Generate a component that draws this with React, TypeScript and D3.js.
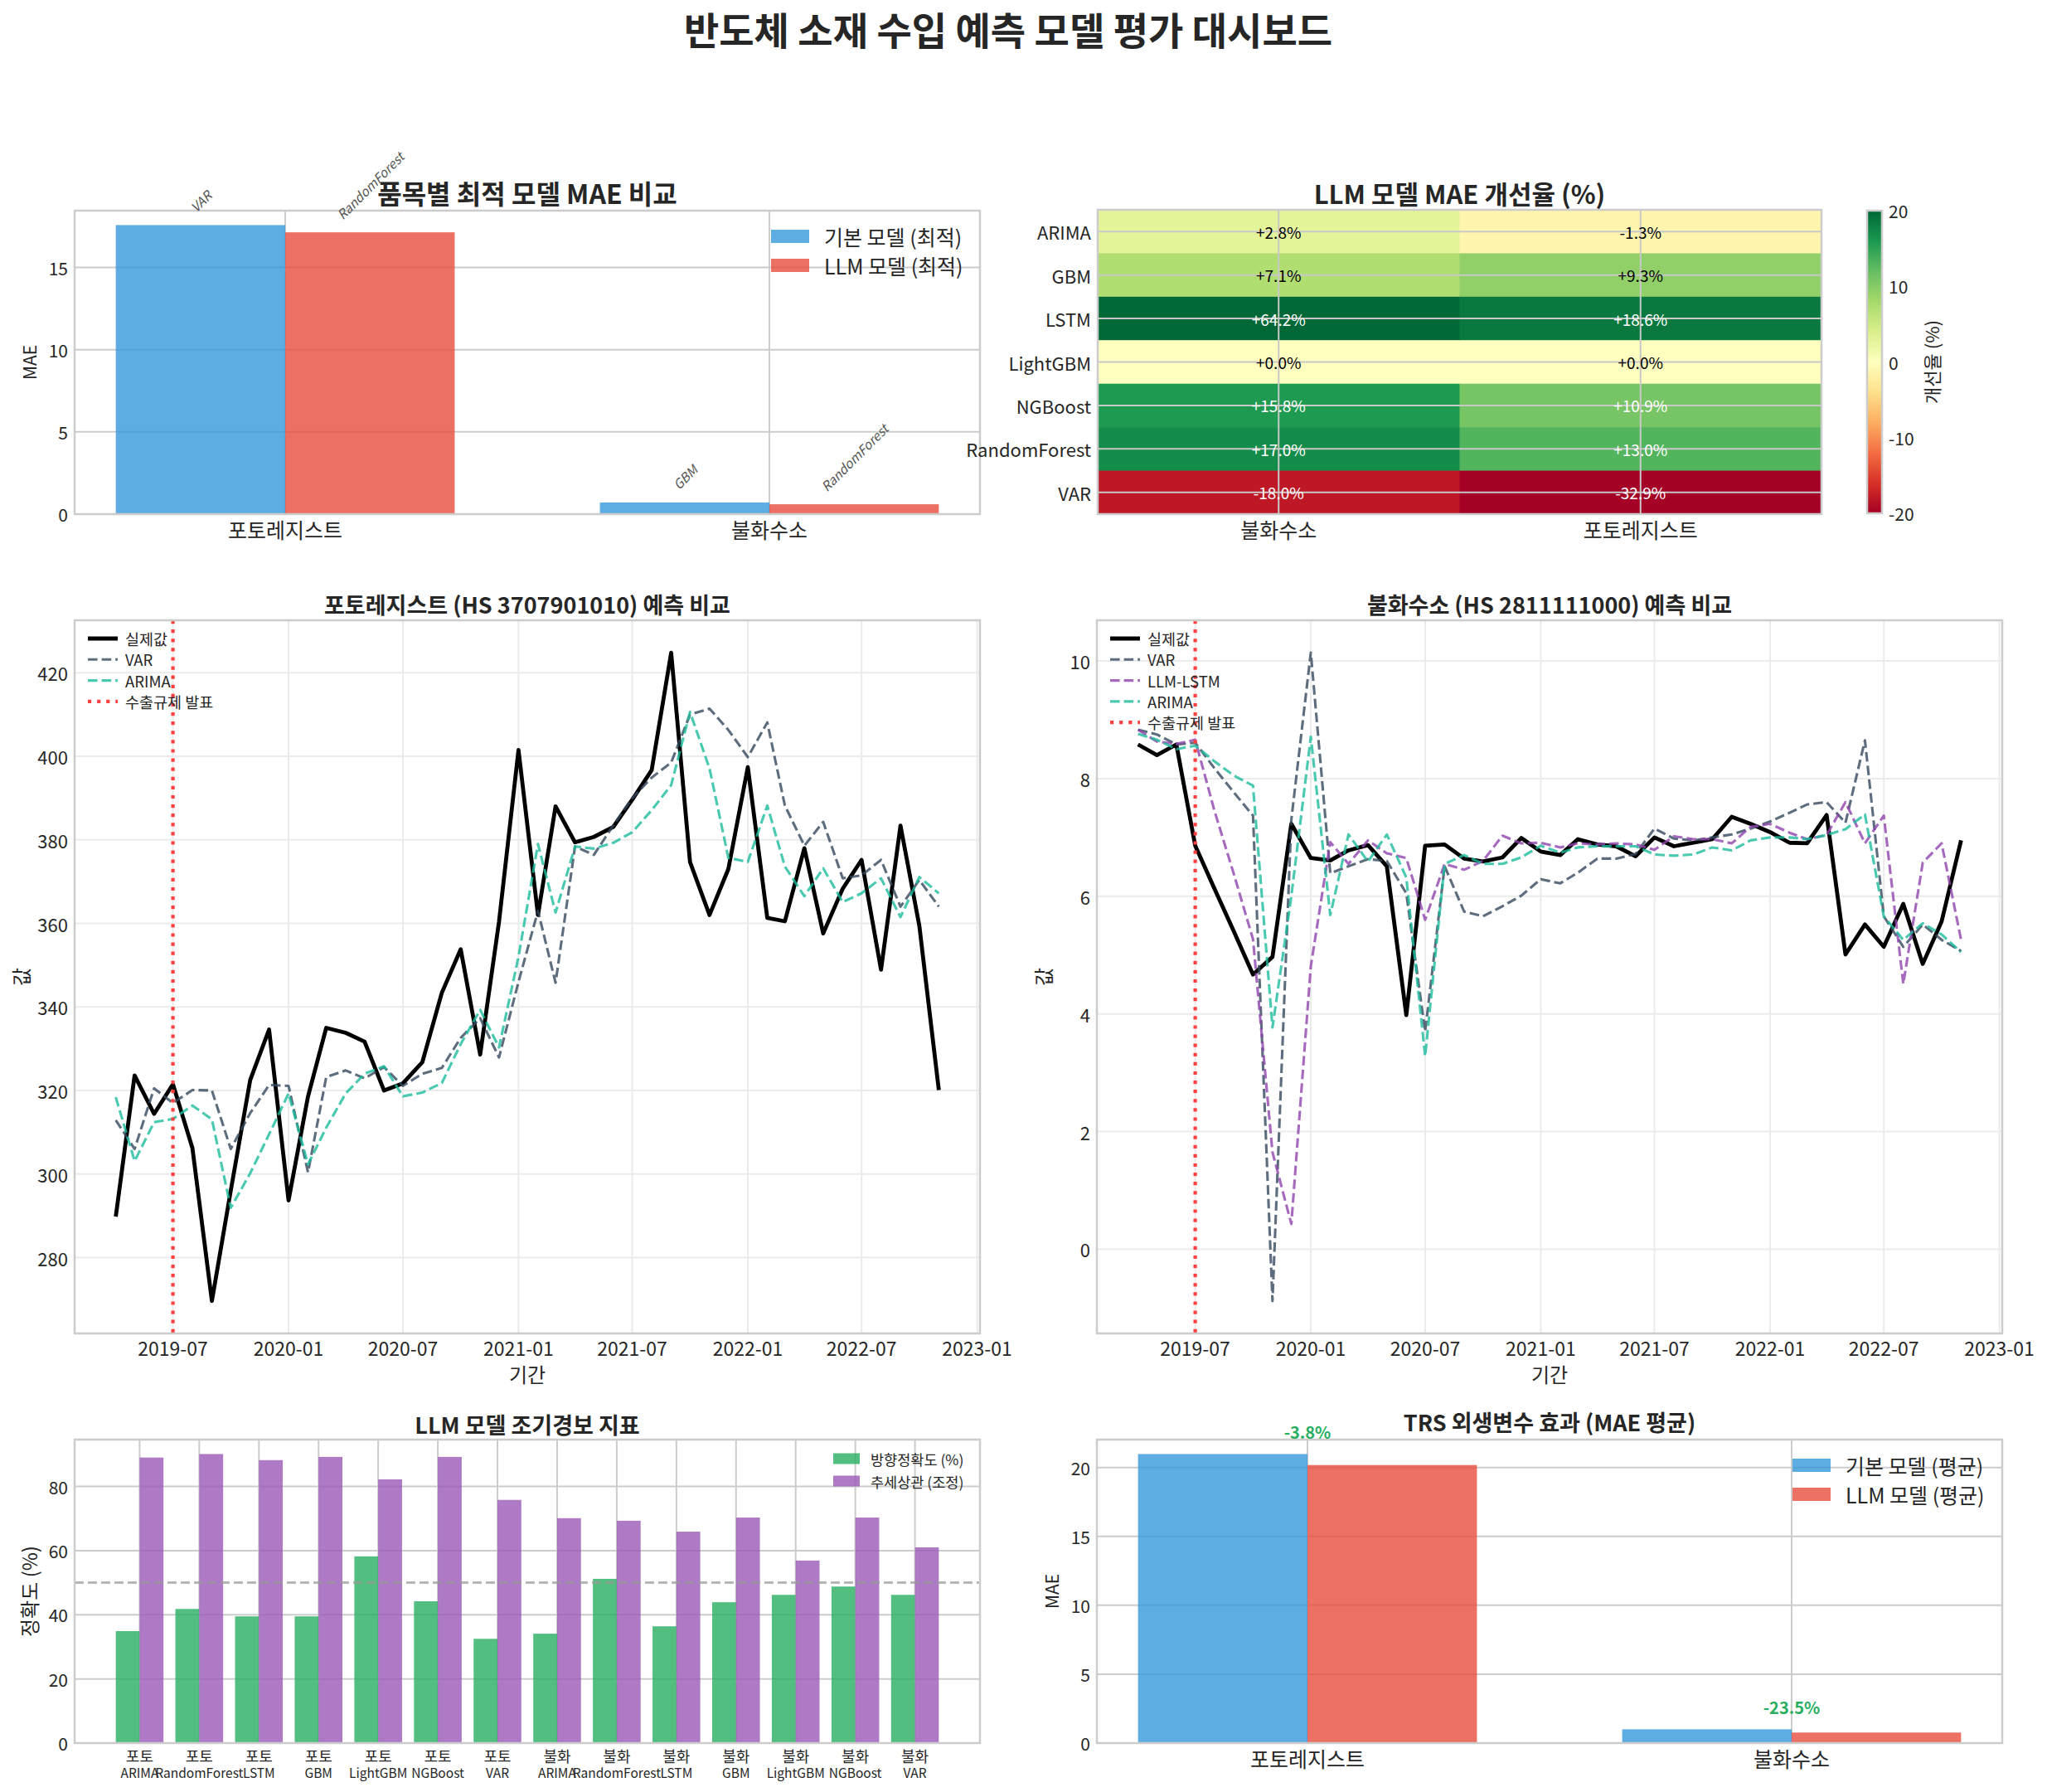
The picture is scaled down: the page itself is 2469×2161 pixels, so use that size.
import { useEffect, useRef } from 'react';
import * as d3 from 'd3';

const W = 2469;
const H = 2161;
const FONT = '"Noto Sans CJK KR", "Noto Sans", sans-serif';
const TEXT = '#262626';
const GRID = '#cccccc';
const GRID_LIGHT = '#ebebeb';
const SPINE = '#cccccc';

const BLUE = '#3498db';
const RED = '#e74c3c';
const GREEN = '#27ae60';
const PURPLE = '#9b59b6';

// 품목별 최적 모델 MAE
const items = ['포토레지스트', '불화수소'];
const bestBaseMae = [17.58, 0.71];
const bestLlmMae = [17.14, 0.6];
const bestBaseName = ['VAR', 'GBM'];
const bestLlmName = ['RandomForest', 'RandomForest'];

// LLM 모델 MAE 개선율 (%)
const heatModels = ['ARIMA', 'GBM', 'LSTM', 'LightGBM', 'NGBoost', 'RandomForest', 'VAR'];
const heatItems = ['불화수소', '포토레지스트'];
const improveHf = [2.8, 7.1, 64.2, 0.0, 15.8, 17.0, -18.0];
const improvePr = [-1.3, 9.3, 18.6, 0.0, 10.9, 13.0, -32.9];

// 월별 시계열 (2019-04 ~ 2022-11)
const months = d3.utcMonth.range(new Date(Date.UTC(2019, 3, 1)), new Date(Date.UTC(2022, 10, 2)));
const exportBan = new Date(Date.UTC(2019, 6, 1));

const prActual = [289.8, 323.6, 314.4, 321.5, 306.2, 269.6, 296.0, 322.5, 334.6, 293.7, 318.6, 335.0, 333.8, 331.7, 320.0, 321.7, 326.8, 343.4, 353.8, 328.6, 360.4, 401.5, 362.0, 388.0, 379.4, 380.7, 383.1, 389.6, 396.7, 424.8, 374.7, 362.0, 373.0, 397.4, 361.3, 360.5, 378.0, 357.6, 368.3, 375.2, 348.9, 383.4, 359.4, 320.1];
const prVar = [312.9, 306.0, 320.5, 317.0, 320.1, 320.0, 306.0, 314.6, 321.3, 321.1, 300.4, 323.2, 324.8, 322.9, 325.6, 321.1, 324.0, 325.4, 332.6, 337.3, 327.9, 346.0, 363.0, 345.8, 378.4, 376.4, 383.5, 390.0, 394.9, 398.5, 410.0, 411.4, 406.3, 399.8, 408.1, 388.2, 378.6, 384.3, 370.8, 371.5, 375.2, 364.0, 370.4, 364.0];
const prArima = [318.4, 303.1, 312.4, 313.2, 316.4, 313.1, 291.9, 300.2, 309.5, 319.3, 302.3, 311.1, 319.3, 324.0, 325.8, 318.6, 319.5, 321.8, 331.1, 339.3, 330.3, 352.0, 379.0, 362.6, 378.4, 377.9, 379.3, 381.8, 387.1, 393.1, 410.6, 397.1, 375.7, 374.7, 388.2, 373.6, 366.5, 373.2, 365.1, 367.2, 370.8, 361.5, 371.1, 367.2];

const hfActual = [8.58, 8.40, 8.58, 6.86, 6.12, 5.39, 4.67, 4.97, 7.23, 6.65, 6.61, 6.78, 6.87, 6.51, 3.98, 6.86, 6.88, 6.64, 6.59, 6.66, 6.99, 6.76, 6.70, 6.97, 6.88, 6.85, 6.68, 7.00, 6.85, 6.91, 6.97, 7.35, 7.23, 7.09, 6.91, 6.90, 7.38, 5.01, 5.52, 5.14, 5.87, 4.85, 5.57, 6.95];
const hfVar = [8.83, 8.75, 8.58, 8.61, 8.17, 7.76, 7.37, -0.88, 7.30, 10.14, 6.39, 6.51, 6.63, 6.60, 6.05, 3.70, 6.51, 5.74, 5.66, 5.83, 6.01, 6.29, 6.22, 6.40, 6.64, 6.64, 6.72, 7.15, 6.98, 6.95, 7.00, 7.05, 7.15, 7.27, 7.42, 7.56, 7.60, 7.25, 8.65, 5.66, 5.14, 5.52, 5.26, 5.07];
const hfLstm = [8.83, 8.63, 8.59, 8.66, 7.44, 6.36, 5.27, 1.65, 0.43, 4.81, 6.92, 6.55, 6.95, 6.73, 6.65, 5.60, 6.55, 6.45, 6.60, 7.03, 6.90, 6.91, 6.83, 6.90, 6.88, 6.90, 6.88, 6.79, 7.02, 6.97, 6.97, 6.90, 7.18, 7.23, 7.08, 6.97, 7.04, 7.60, 6.90, 7.37, 4.51, 6.57, 6.90, 5.26];
const hfArima = [8.76, 8.66, 8.50, 8.56, 8.29, 8.05, 7.88, 3.77, 6.00, 8.71, 5.68, 7.05, 6.59, 7.05, 6.32, 3.28, 6.55, 6.70, 6.55, 6.55, 6.66, 6.86, 6.74, 6.83, 6.85, 6.85, 6.85, 6.71, 6.69, 6.71, 6.83, 6.78, 6.95, 7.00, 7.00, 6.97, 7.04, 7.14, 7.39, 5.66, 5.26, 5.54, 5.35, 5.05];

// LLM 모델 조기경보 지표
const ewItem = ['포토', '포토', '포토', '포토', '포토', '포토', '포토', '불화', '불화', '불화', '불화', '불화', '불화', '불화'];
const ewModel = ['ARIMA', 'RandomForest', 'LSTM', 'GBM', 'LightGBM', 'NGBoost', 'VAR', 'ARIMA', 'RandomForest', 'LSTM', 'GBM', 'LightGBM', 'NGBoost', 'VAR'];
const dirAcc = [34.9, 41.8, 39.5, 39.5, 58.2, 44.2, 32.5, 34.1, 51.2, 36.4, 43.9, 46.2, 48.8, 46.2];
const trendCorr = [89.0, 90.1, 88.2, 89.2, 82.2, 89.2, 75.8, 70.1, 69.3, 65.9, 70.3, 56.9, 70.3, 61.0];

// TRS 외생변수 효과
const trsBase = [20.98, 1.0];
const trsLlm = [20.18, 0.765];

type G = d3.Selection<SVGGElement, unknown, null, undefined>;
interface Box { x: number; y: number; w: number; h: number; }

interface TextOpts { anchor?: string; weight?: string | number; fill?: string; rotate?: number; italic?: boolean; }

function txt(g: G, x: number, y: number, s: string, size: number, o: TextOpts = {}) {
  const t = g.append('text')
    .attr('x', x).attr('y', y)
    .attr('font-family', FONT).attr('font-size', size)
    .attr('fill', o.fill ?? TEXT)
    .attr('text-anchor', o.anchor ?? 'middle')
    .attr('dominant-baseline', 'central')
    .text(s);
  if (o.weight) t.attr('font-weight', o.weight);
  if (o.italic) t.attr('font-style', 'italic');
  if (o.rotate) t.attr('transform', `rotate(${o.rotate},${x},${y})`);
  return t;
}

function hline(g: G, b: Box, y: number, color: string, width: number) {
  g.append('line').attr('x1', b.x).attr('x2', b.x + b.w).attr('y1', y).attr('y2', y)
    .attr('stroke', color).attr('stroke-width', width);
}

function vline(g: G, b: Box, x: number, color: string, width: number) {
  g.append('line').attr('x1', x).attr('x2', x).attr('y1', b.y).attr('y2', b.y + b.h)
    .attr('stroke', color).attr('stroke-width', width);
}

function spines(g: G, b: Box) {
  g.append('rect').attr('x', b.x).attr('y', b.y).attr('width', b.w).attr('height', b.h)
    .attr('fill', 'none').attr('stroke', SPINE).attr('stroke-width', 2.5);
}

interface PairCfg {
  base: number[];
  llm: number[];
  yTicks: number[];
  title: string;
  titleSize: number;
  legend: [string, string];
  legendX: number;
  legendY: number;
}

// 기본 vs LLM 막대 비교 (두 품목)
function pairPanel(root: G, b: Box, cfg: PairCfg) {
  const g = root.append('g');
  const bw = 0.35;
  const maxV = d3.max([...cfg.base, ...cfg.llm])!;
  const x = d3.scaleLinear().domain([-bw - 1.7 * 0.05, 1 + bw + 1.7 * 0.05]).range([b.x, b.x + b.w]);
  const y = d3.scaleLinear().domain([0, maxV * 1.05]).range([b.y + b.h, b.y]);

  cfg.yTicks.forEach(t => hline(g, b, y(t), GRID, 2));
  items.forEach((_, i) => vline(g, b, x(i), GRID, 2));

  g.selectAll('rect.base').data(cfg.base).join('rect').attr('class', 'base')
    .attr('x', (_, i) => x(i - bw)).attr('width', x(bw) - x(0))
    .attr('y', d => y(d)).attr('height', d => y(0) - y(d))
    .attr('fill', BLUE).attr('fill-opacity', 0.8);
  g.selectAll('rect.llm').data(cfg.llm).join('rect').attr('class', 'llm')
    .attr('x', (_, i) => x(i)).attr('width', x(bw) - x(0))
    .attr('y', d => y(d)).attr('height', d => y(0) - y(d))
    .attr('fill', RED).attr('fill-opacity', 0.8);

  spines(g, b);

  cfg.yTicks.forEach(t => txt(g, b.x - 8, y(t), String(t), 21, { anchor: 'end' }));
  items.forEach((s, i) => txt(g, x(i), b.y + b.h + 18, s, 25));
  txt(g, b.x - 55, b.y + b.h / 2, 'MAE', 21, { rotate: -90 });
  txt(g, b.x + b.w / 2, b.y - 22, cfg.title, cfg.titleSize, { weight: 700 });

  cfg.legend.forEach((s, i) => {
    const cy = cfg.legendY + i * 35;
    g.append('rect').attr('x', cfg.legendX).attr('y', cy - 8).attr('width', 46).attr('height', 16)
      .attr('fill', i === 0 ? BLUE : RED).attr('fill-opacity', 0.8);
    txt(g, cfg.legendX + 64, cy, s, 25, { anchor: 'start' });
  });

  return { g, x, y, bw };
}

interface Series { name: string; values: number[]; color: string; width: number; dash?: string; opacity?: number; }

function linePanel(root: G, b: Box, title: string, series: Series[], yTicks: number[]) {
  const g = root.append('g');
  const all = series.flatMap(s => s.values);
  const [lo, hi] = d3.extent(all) as [number, number];
  const py = (hi - lo) * 0.05;
  const y = d3.scaleLinear().domain([lo - py, hi + py]).range([b.y + b.h, b.y]);
  const t0 = months[0].getTime();
  const t1 = months[months.length - 1].getTime();
  const px = (t1 - t0) * 0.05;
  const x = d3.scaleUtc().domain([new Date(t0 - px), new Date(t1 + px)]).range([b.x, b.x + b.w]);
  const xTicks = x.ticks(d3.utcMonth.every(6)!);

  yTicks.forEach(t => hline(g, b, y(t), GRID_LIGHT, 2));
  xTicks.forEach(t => vline(g, b, x(t), GRID_LIGHT, 2));

  const line = d3.line<number>().x((_, i) => x(months[i])).y(d => y(d));
  series.forEach(s => {
    g.append('path').attr('d', line(s.values)!)
      .attr('fill', 'none').attr('stroke', s.color).attr('stroke-width', s.width)
      .attr('stroke-opacity', s.opacity ?? 1)
      .attr('stroke-dasharray', s.dash ?? null)
      .attr('stroke-linejoin', 'round');
  });

  const banX = x(exportBan);
  g.append('line').attr('x1', banX).attr('x2', banX).attr('y1', b.y).attr('y2', b.y + b.h)
    .attr('stroke', '#ff4040').attr('stroke-width', 4.2).attr('stroke-dasharray', '4.2,6.9');

  spines(g, b);

  yTicks.forEach(t => txt(g, b.x - 8, y(t), String(t), 22, { anchor: 'end' }));
  const fmt = d3.utcFormat('%Y-%m');
  xTicks.forEach(t => txt(g, x(t), b.y + b.h + 17, fmt(t), 23));
  txt(g, b.x + b.w / 2, b.y + b.h + 48, '기간', 24);
  txt(g, b.x - 66, b.y + b.h / 2, '값', 24, { rotate: -90 });
  txt(g, b.x + b.w / 2, b.y - 20, title, 27, { weight: 700 });

  // 범례
  const entries: Series[] = [...series, { name: '수출규제 발표', values: [], color: '#ff4040', width: 4.2, dash: '4.2,6.9' }];
  entries.forEach((s, i) => {
    const cy = b.y + 22 + i * 25.3;
    g.append('line').attr('x1', b.x + 16).attr('x2', b.x + 52).attr('y1', cy).attr('y2', cy)
      .attr('stroke', s.color).attr('stroke-width', s.width)
      .attr('stroke-opacity', s.opacity ?? 1)
      .attr('stroke-dasharray', s.dash ?? null);
    txt(g, b.x + 61, cy, s.name, 18.5, { anchor: 'start' });
  });
}

export default function App() {
  const svgRef = useRef<SVGSVGElement>(null);

  useEffect(() => {
    document.body.style.margin = '0';
    const svg = d3.select(svgRef.current!);
    svg.selectAll('*').remove();
    svg.append('rect').attr('width', W).attr('height', H).attr('fill', '#ffffff');
    const root = svg.append('g') as unknown as G;

    txt(root, 1216, 34, '반도체 소재 수입 예측 모델 평가 대시보드', 46, { weight: 700 });

    // 1. 품목별 최적 모델 MAE 비교
    const top = pairPanel(root, { x: 90, y: 254, w: 1092, h: 366 }, {
      base: bestBaseMae, llm: bestLlmMae, yTicks: [0, 5, 10, 15],
      title: '품목별 최적 모델 MAE 비교', titleSize: 32,
      legend: ['기본 모델 (최적)', 'LLM 모델 (최적)'], legendX: 930, legendY: 285,
    });
    const rotLabel = (cx: number, topY: number, s: string) => {
      const t = txt(top.g, cx, topY, s, 15.5, { italic: true, fill: '#555555' });
      const L = (t.node() as SVGTextElement).getComputedTextLength();
      const cy = topY - 14 - (L + 15) / (2 * Math.SQRT2);
      t.attr('y', cy).attr('transform', `rotate(-45,${cx},${cy})`);
    };
    items.forEach((_, i) => {
      rotLabel(top.x(i - top.bw / 2), top.y(bestBaseMae[i]), bestBaseName[i]);
      rotLabel(top.x(i + top.bw / 2), top.y(bestLlmMae[i]), bestLlmName[i]);
    });

    // 2. LLM 모델 MAE 개선율 히트맵
    {
      const b: Box = { x: 1324, y: 253, w: 873, h: 367 };
      const g = root.append('g');
      const cx = d3.scaleBand().domain(heatItems).range([b.x, b.x + b.w]);
      const ry = d3.scaleBand().domain(heatModels).range([b.y, b.y + b.h]);
      const cmap = d3.scaleLinear<string>()
        .domain(d3.range(11).map(i => -20 + i * 4))
        .range(d3.schemeRdYlGn[11])
        .interpolate(d3.interpolateRgb)
        .clamp(true);
      const cols = [improveHf, improvePr];
      cols.forEach((vals, c) => {
        vals.forEach((v, r) => {
          g.append('rect').attr('x', cx(heatItems[c])!).attr('y', ry(heatModels[r])!)
            .attr('width', cx.bandwidth() + 0.5).attr('height', ry.bandwidth() + 0.5)
            .attr('fill', cmap(v));
        });
      });
      heatItems.forEach(s => vline(g, b, cx(s)! + cx.bandwidth() / 2, '#c8c8c8', 2));
      heatModels.forEach(s => hline(g, b, ry(s)! + ry.bandwidth() / 2, '#c8c8c8', 2));
      cols.forEach((vals, c) => {
        vals.forEach((v, r) => {
          const label = `${v >= 0 ? '+' : ''}${v.toFixed(1)}%`;
          txt(g, cx(heatItems[c])! + cx.bandwidth() / 2, ry(heatModels[r])! + ry.bandwidth() / 2, label, 19,
            { fill: Math.abs(v) > 10 ? '#ffffff' : '#000000' });
        });
      });
      spines(g, b);
      heatModels.forEach(s => txt(g, b.x - 8, ry(s)! + ry.bandwidth() / 2, s, 22, { anchor: 'end' }));
      heatItems.forEach(s => txt(g, cx(s)! + cx.bandwidth() / 2, b.y + b.h + 18, s, 25));
      txt(g, b.x + b.w / 2, b.y - 21, 'LLM 모델 MAE 개선율 (%)', 31, { weight: 700 });

      // 컬러바
      const cb: Box = { x: 2252, y: 254, w: 18, h: 365 };
      const grad = svg.append('defs').append('linearGradient').attr('id', 'cbGrad')
        .attr('x1', 0).attr('y1', 1).attr('x2', 0).attr('y2', 0);
      d3.range(11).forEach(i => {
        grad.append('stop').attr('offset', i / 10).attr('stop-color', d3.schemeRdYlGn[11][i]);
      });
      g.append('rect').attr('x', cb.x).attr('y', cb.y).attr('width', cb.w).attr('height', cb.h)
        .attr('fill', 'url(#cbGrad)');
      spines(g, cb);
      const cs = d3.scaleLinear().domain([-20, 20]).range([cb.y + cb.h, cb.y]);
      [-20, -10, 0, 10, 20].forEach(t => txt(g, cb.x + cb.w + 8, cs(t), String(t), 21, { anchor: 'start' }));
      txt(g, 2329, cb.y + cb.h / 2, '개선율 (%)', 22, { rotate: -90 });
    }

    // 3, 4. 품목별 예측 비교
    linePanel(root, { x: 90, y: 748, w: 1092, h: 860 }, '포토레지스트 (HS 3707901010) 예측 비교', [
      { name: '실제값', values: prActual, color: '#000000', width: 4.8 },
      { name: 'VAR', values: prVar, color: '#34495e', width: 3.1, dash: '11.6,5', opacity: 0.8 },
      { name: 'ARIMA', values: prArima, color: '#1abc9c', width: 3.1, dash: '11.6,5', opacity: 0.8 },
    ], [280, 300, 320, 340, 360, 380, 400, 420]);

    linePanel(root, { x: 1323, y: 748, w: 1092, h: 860 }, '불화수소 (HS 2811111000) 예측 비교', [
      { name: '실제값', values: hfActual, color: '#000000', width: 4.8 },
      { name: 'VAR', values: hfVar, color: '#34495e', width: 3.1, dash: '11.6,5', opacity: 0.8 },
      { name: 'LLM-LSTM', values: hfLstm, color: '#8e44ad', width: 3.1, dash: '11.6,5', opacity: 0.8 },
      { name: 'ARIMA', values: hfArima, color: '#1abc9c', width: 3.1, dash: '11.6,5', opacity: 0.8 },
    ], [0, 2, 4, 6, 8, 10]);

    // 5. LLM 모델 조기경보 지표
    {
      const b: Box = { x: 90, y: 1736, w: 1092, h: 366 };
      const g = root.append('g');
      const n = dirAcc.length;
      const bw = 0.4;
      const span = (n - 1) + 2 * bw;
      const x = d3.scaleLinear().domain([-bw - span * 0.05, n - 1 + bw + span * 0.05]).range([b.x, b.x + b.w]);
      const maxV = d3.max([...dirAcc, ...trendCorr])!;
      const y = d3.scaleLinear().domain([0, maxV * 1.05]).range([b.y + b.h, b.y]);
      const yTicks = [0, 20, 40, 60, 80];
      yTicks.forEach(t => hline(g, b, y(t), GRID, 2));
      d3.range(n).forEach(i => vline(g, b, x(i), GRID, 2));
      g.selectAll('rect.acc').data(dirAcc).join('rect').attr('class', 'acc')
        .attr('x', (_, i) => x(i - bw)).attr('width', x(bw) - x(0))
        .attr('y', d => y(d)).attr('height', d => y(0) - y(d))
        .attr('fill', GREEN).attr('fill-opacity', 0.8);
      g.selectAll('rect.corr').data(trendCorr).join('rect').attr('class', 'corr')
        .attr('x', (_, i) => x(i)).attr('width', x(bw) - x(0))
        .attr('y', d => y(d)).attr('height', d => y(0) - y(d))
        .attr('fill', PURPLE).attr('fill-opacity', 0.8);
      g.append('line').attr('x1', b.x).attr('x2', b.x + b.w).attr('y1', y(50)).attr('y2', y(50))
        .attr('stroke', '#999999').attr('stroke-opacity', 0.7).attr('stroke-width', 3)
        .attr('stroke-dasharray', '11,5');
      spines(g, b);
      yTicks.forEach(t => txt(g, b.x - 8, y(t), String(t), 21, { anchor: 'end' }));
      d3.range(n).forEach(i => {
        txt(g, x(i), b.y + b.h + 15, ewItem[i], 18);
        txt(g, x(i), b.y + b.h + 35, ewModel[i], 15.5);
      });
      txt(g, b.x - 56, b.y + b.h / 2, '정확도 (%)', 24, { rotate: -90 });
      txt(g, b.x + b.w / 2, b.y - 19, 'LLM 모델 조기경보 지표', 27, { weight: 700 });
      ['방향정확도 (%)', '추세상관 (조정)'].forEach((s, i) => {
        const cy = 1759 + i * 27;
        g.append('rect').attr('x', 1005).attr('y', cy - 6.5).attr('width', 32).attr('height', 13)
          .attr('fill', i === 0 ? GREEN : PURPLE).attr('fill-opacity', 0.8);
        txt(g, 1050, cy, s, 17.5, { anchor: 'start' });
      });
    }

    // 6. TRS 외생변수 효과
    const trs = pairPanel(root, { x: 1323, y: 1736, w: 1092, h: 366 }, {
      base: trsBase, llm: trsLlm, yTicks: [0, 5, 10, 15, 20],
      title: 'TRS 외생변수 효과 (MAE 평균)', titleSize: 27,
      legend: ['기본 모델 (평균)', 'LLM 모델 (평균)'], legendX: 2162, legendY: 1767,
    });
    items.forEach((_, i) => {
      const pct = (trsLlm[i] - trsBase[i]) / trsBase[i] * 100;
      const topY = trs.y(Math.max(trsBase[i], trsLlm[i]));
      txt(trs.g, trs.x(i), topY - 27, `${pct.toFixed(1)}%`, 20, { weight: 700, fill: GREEN });
    });
  }, []);

  return <svg ref={svgRef} width={W} height={H} style={{ display: 'block' }} />;
}
